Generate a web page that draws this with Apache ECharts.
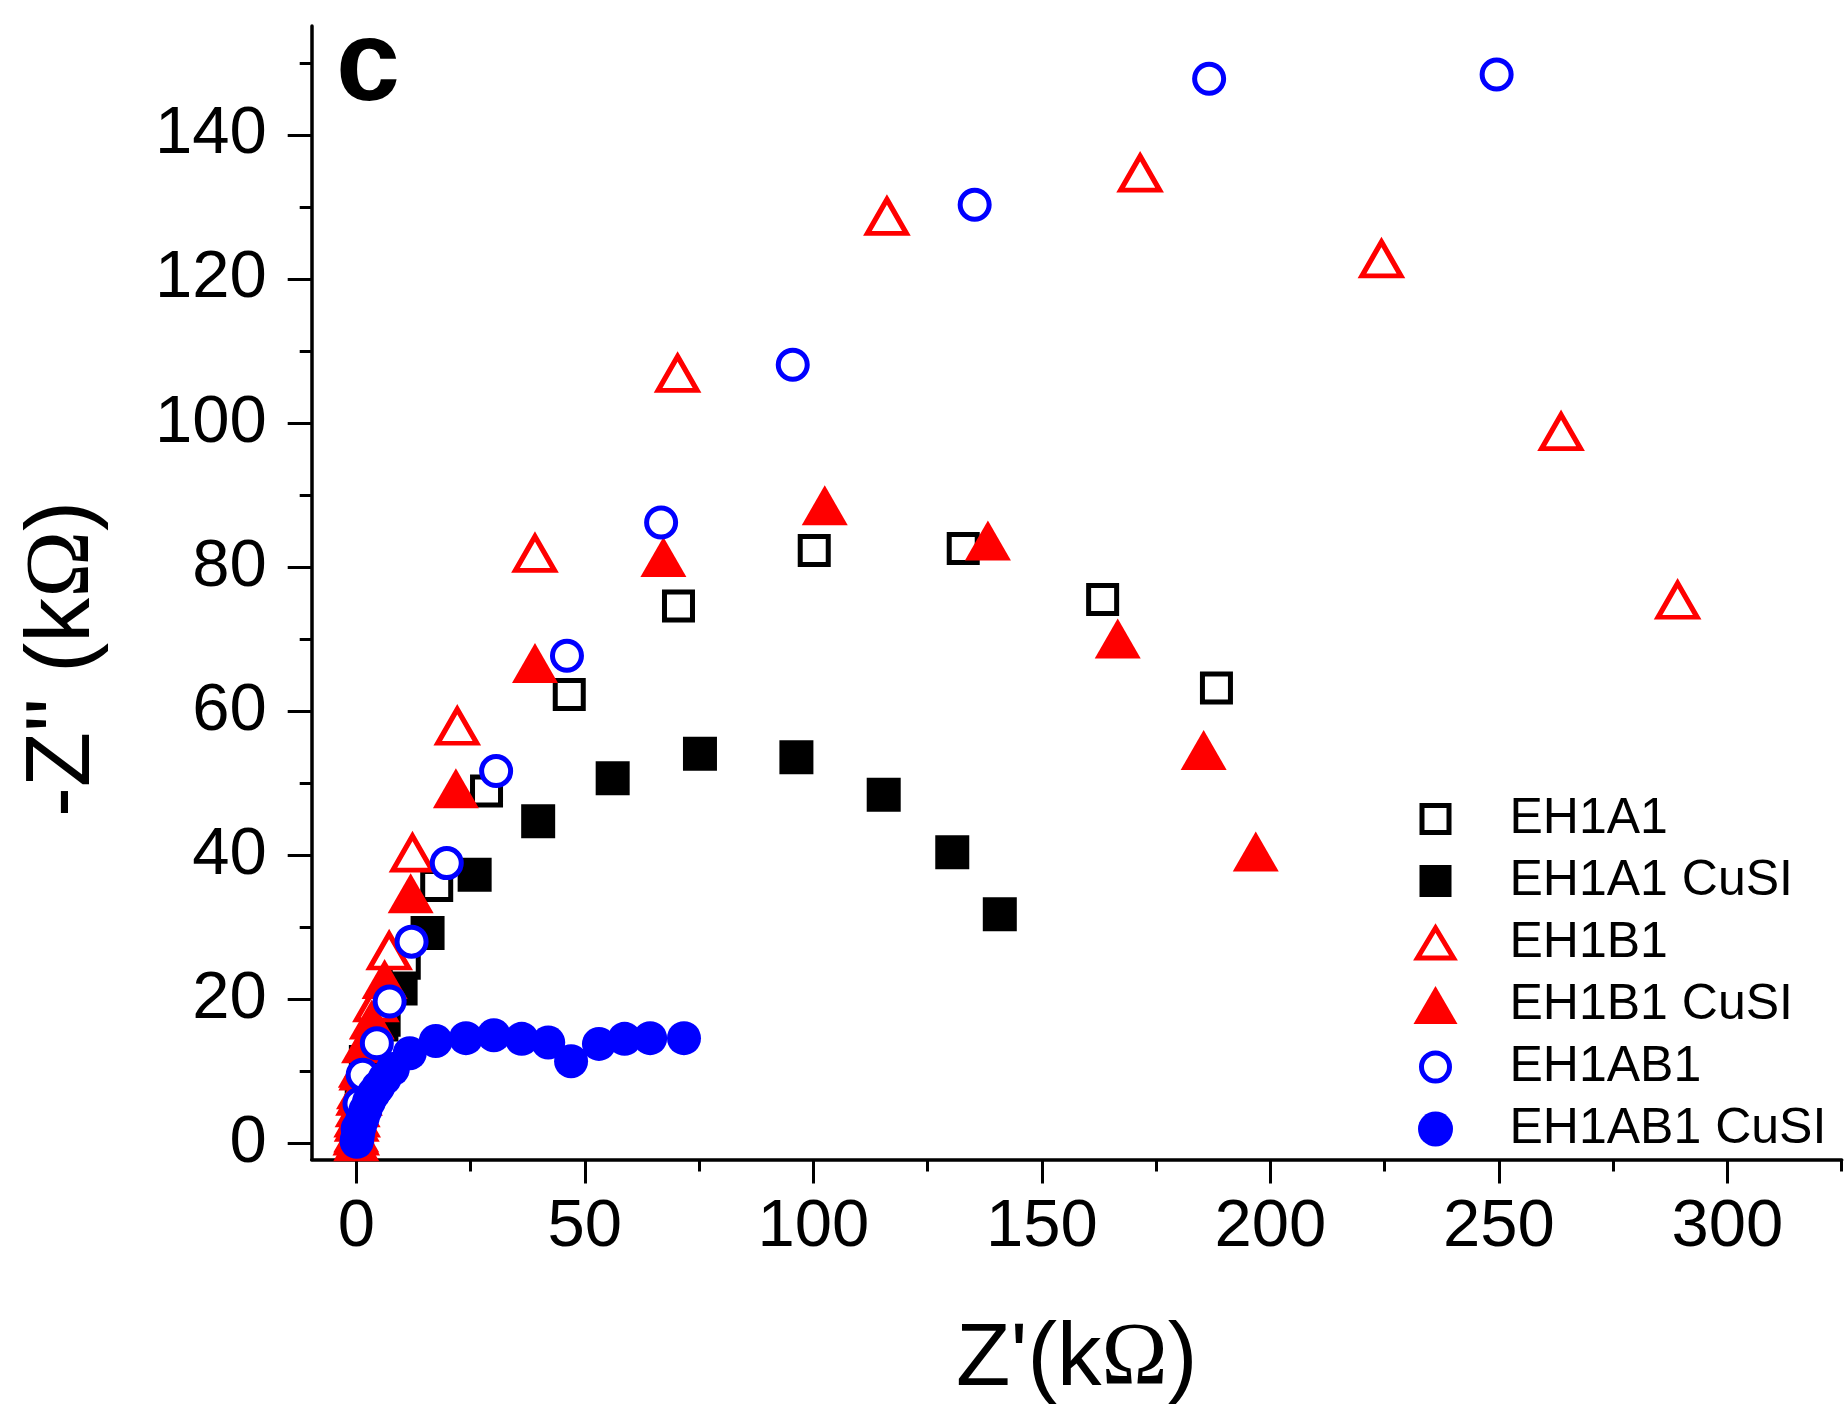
<!DOCTYPE html>
<html>
<head>
<meta charset="utf-8">
<script src="https://cdn.jsdelivr.net/npm/echarts@6/dist/echarts.min.js"></script>
<style>
  html, body { margin: 0; padding: 0; background: #fff; }
  #chart { width: 1846px; height: 1404px; }
</style>
</head>
<body>
<div id="chart"></div>
<script>
// ---- data (Z' in kΩ, -Z'' in kΩ) ----
const seriesNames = ['EH1A1', 'EH1A1 CuSI', 'EH1B1', 'EH1B1 CuSI', 'EH1AB1', 'EH1AB1 CuSI'];

const EH1A1 = [
  [0.3, 1.5], [1.0, 4.5], [2.0, 8.0], [3.5, 12.5], [6.1, 17.1], [10.5, 25.0], [17.6, 35.8],
  [28.5, 48.9], [46.6, 62.3], [70.5, 74.6], [100.2, 82.3], [132.8, 82.6], [163.3, 75.5], [188.2, 63.2]
];
const EH1A1_CuSI = [
  [0.1, 0.5], [0.5, 3.0], [1.2, 7.0], [2.1, 11.3], [5.5, 16.5], [9.7, 21.5], [15.6, 29.2],
  [25.9, 37.3], [39.8, 44.7], [56.1, 50.7], [75.2, 54.1], [96.3, 53.6], [115.4, 48.4],
  [130.4, 40.4], [140.8, 31.8]
];
const EH1B1 = [
  [0.0, 1.0], [0.2, 3.5], [0.6, 6.5], [1.3, 10.0], [2.5, 14.0], [4.3, 19.5], [7.2, 26.7],
  [12.3, 40.3], [22.1, 57.9], [39.1, 81.9], [70.3, 106.9], [116.1, 128.7], [171.5, 134.7],
  [224.3, 122.8], [263.6, 98.8], [289.1, 75.4]
];
const EH1B1_CuSI = [
  [0.0, 0.3], [0.0, 1.5], [0.1, 3.0], [0.3, 5.0], [0.6, 7.5], [1.0, 10.5], [1.7, 13.9],
  [3.4, 17.2], [6.2, 22.8], [11.9, 34.7], [21.8, 49.3], [39.1, 66.7], [67.2, 81.4],
  [102.5, 88.6], [138.2, 83.7], [166.6, 70.1], [185.4, 54.6], [196.8, 40.5]
];
const EH1AB1 = [
  [0.1, 0.4], [0.3, 2.0], [0.7, 5.5], [1.4, 9.5], [4.5, 13.9], [7.3, 19.7], [12.1, 28.0],
  [19.8, 38.9], [30.6, 51.7], [46.1, 67.7], [66.7, 86.2], [95.5, 108.1], [135.3, 130.3],
  [186.6, 147.8], [249.5, 148.4]
];
const EH1AB1_CuSI = [
  [0.1, 0.2], [0.3, 0.9], [0.5, 1.7], [0.9, 2.6], [1.4, 3.5], [2.0, 4.6], [2.8, 5.8],
  [3.8, 6.9], [4.8, 7.8], [6.2, 9.0], [8.0, 10.3], [11.7, 12.5], [17.4, 14.2], [24.0, 14.6],
  [30.1, 15.0], [36.2, 14.5], [42.0, 14.0], [47.0, 11.4], [53.1, 13.8], [58.7, 14.5],
  [64.3, 14.6], [71.7, 14.6]
];

// ---- ticks ----
const xMajorTicks = [0, 50, 100, 150, 200, 250, 300];
const xMinorTicks = [25, 75, 125, 175, 225, 275, 325];
const yMajorTicks = [0, 20, 40, 60, 80, 100, 120, 140];
const yMinorTicks = [10, 30, 50, 70, 90, 110, 130, 150];

const xTitle = "Z'(k{o|Ω})";
const yTitle = "-Z'' (k{o|Ω})";
const panelLabel = 'c';

// ---- styling ----
const SANS = 'Liberation Sans, Arial, sans-serif';
const SERIF = 'Liberation Serif, Times New Roman, serif';
const BLACK = '#000000', RED = '#ff0000', BLUE = '#0000ff';

const chart = echarts.init(document.getElementById('chart'), null, { renderer: 'canvas' });

const gridLeft = 311.7, gridTop = 26, gridW = 1530, gridH = 1133.5;
const xMin = -9.75, xMax = 325, yMin = -2.25, yMax = 155.13;

function valueAxisBase(min, max) {
  return { type: 'value', min: min, max: max, splitLine: { show: false }, gridIndex: 0 };
}

const option = {
  animation: false,
  backgroundColor: '#ffffff',
  grid: { left: gridLeft, top: gridTop, width: gridW, height: gridH, containLabel: false, outerBoundsMode: 'none' },
  xAxis: [
    Object.assign(valueAxisBase(xMin, xMax), {
      position: 'bottom',
      axisLine: { show: true, onZero: false, lineStyle: { color: BLACK, width: 3.5 } },
      axisTick: { show: true, inside: false, length: 24, customValues: xMajorTicks, lineStyle: { color: BLACK, width: 3 } },
      axisLabel: { show: true, customValues: xMajorTicks, margin: 35, fontSize: 67, fontFamily: SANS, color: BLACK },
      name: xTitle,
      nameLocation: 'middle',
      nameGap: 156,
      nameTextStyle: { fontSize: 89, fontFamily: SANS, color: BLACK, rich: { o: { fontSize: 89, fontFamily: SERIF, color: BLACK } } }
    }),
    Object.assign(valueAxisBase(xMin, xMax), {
      position: 'bottom',
      axisLine: { show: false, onZero: false },
      axisTick: { show: true, inside: false, length: 12, customValues: xMinorTicks, lineStyle: { color: BLACK, width: 3 } },
      axisLabel: { show: false }
    })
  ],
  yAxis: [
    Object.assign(valueAxisBase(yMin, yMax), {
      position: 'left',
      axisLine: { show: true, onZero: false, lineStyle: { color: BLACK, width: 3.5 } },
      axisTick: { show: true, inside: false, length: 24, customValues: yMajorTicks, lineStyle: { color: BLACK, width: 3 } },
      axisLabel: { show: true, customValues: yMajorTicks, margin: 45, fontSize: 67, fontFamily: SANS, color: BLACK }
    }),
    Object.assign(valueAxisBase(yMin, yMax), {
      position: 'left',
      axisLine: { show: false, onZero: false },
      axisTick: { show: true, inside: false, length: 12, customValues: yMinorTicks, lineStyle: { color: BLACK, width: 3 } },
      axisLabel: { show: false }
    })
  ],
  legend: {
    orient: 'vertical',
    left: 1411,
    top: 794,
    padding: 0,
    itemWidth: 138,
    itemHeight: 38,
    itemGap: 12,
    symbolKeepAspect: true,
    selectedMode: false,
    textStyle: { fontFamily: SANS, fontSize: 50, color: BLACK },
    data: [
      { name: seriesNames[0], icon: 'path://M0,0M44,38M8.5,5.5h27v27h-27z', itemStyle: { color: '#fff', borderColor: BLACK, borderWidth: 5 } },
      { name: seriesNames[1], icon: 'path://M0,0M44,38M6,3h32v32h-32z', itemStyle: { color: BLACK, borderWidth: 0 } },
      { name: seriesNames[2], icon: 'path://M0,0M44,38M22,4L40,34H4z', itemStyle: { color: '#fff', borderColor: RED, borderWidth: 5 } },
      { name: seriesNames[3], icon: 'path://M0,0M44,38M22,0L44,38H0z', itemStyle: { color: RED, borderWidth: 0 } },
      { name: seriesNames[4], icon: 'path://M0,0M44,38M8,19a14,14 0 1,0 28,0a14,14 0 1,0 -28,0z', itemStyle: { color: '#fff', borderColor: BLUE, borderWidth: 5 } },
      { name: seriesNames[5], icon: 'path://M0,0M44,38M4.5,19a17.5,17.5 0 1,0 35,0a17.5,17.5 0 1,0 -35,0z', itemStyle: { color: BLUE, borderWidth: 0 } }
    ]
  },
  series: [
    { name: seriesNames[0], type: 'scatter', data: EH1A1, symbol: 'rect', symbolSize: 28,
      itemStyle: { color: '#fff', borderColor: BLACK, borderWidth: 5, opacity: 1 } },
    { name: seriesNames[1], type: 'scatter', data: EH1A1_CuSI, symbol: 'rect', symbolSize: 34,
      itemStyle: { color: BLACK, borderWidth: 0, opacity: 1 } },
    { name: seriesNames[2], type: 'scatter', data: EH1B1, symbol: 'triangle', symbolSize: [39, 34],
      itemStyle: { color: '#fff', borderColor: RED, borderWidth: 5, opacity: 1 } },
    { name: seriesNames[3], type: 'scatter', data: EH1B1_CuSI, symbol: 'triangle', symbolSize: [46, 40],
      itemStyle: { color: RED, borderWidth: 0, opacity: 1 } },
    { name: seriesNames[4], type: 'scatter', data: EH1AB1, symbol: 'circle', symbolSize: 29,
      itemStyle: { color: '#fff', borderColor: BLUE, borderWidth: 5, opacity: 1 } },
    { name: seriesNames[5], type: 'scatter', data: EH1AB1_CuSI, symbol: 'circle', symbolSize: 34,
      itemStyle: { color: BLUE, borderWidth: 0, opacity: 1 } }
  ].map(s => Object.assign(s, { silent: true, xAxisIndex: 0, yAxisIndex: 0, emphasis: { disabled: true } })),
  graphic: [
    {
      type: 'text', x: 336, y: 68, z: 100,
      style: { text: panelLabel, fontSize: 115, fontWeight: 'bold', fontFamily: SANS, fill: BLACK,
               textAlign: 'left', textVerticalAlign: 'middle', align: 'left', verticalAlign: 'middle' }
    },
    {
      type: 'text', x: 64, y: 659, rotation: Math.PI / 2, z: 100,
      style: { text: yTitle, fontSize: 90, fontFamily: SANS, fill: BLACK,
               textAlign: 'center', textVerticalAlign: 'middle', align: 'center', verticalAlign: 'middle',
               rich: { o: { fontSize: 90, fontFamily: SERIF, fill: BLACK } } }
    }
  ]
};

chart.setOption(option);
</script>
</body>
</html>
